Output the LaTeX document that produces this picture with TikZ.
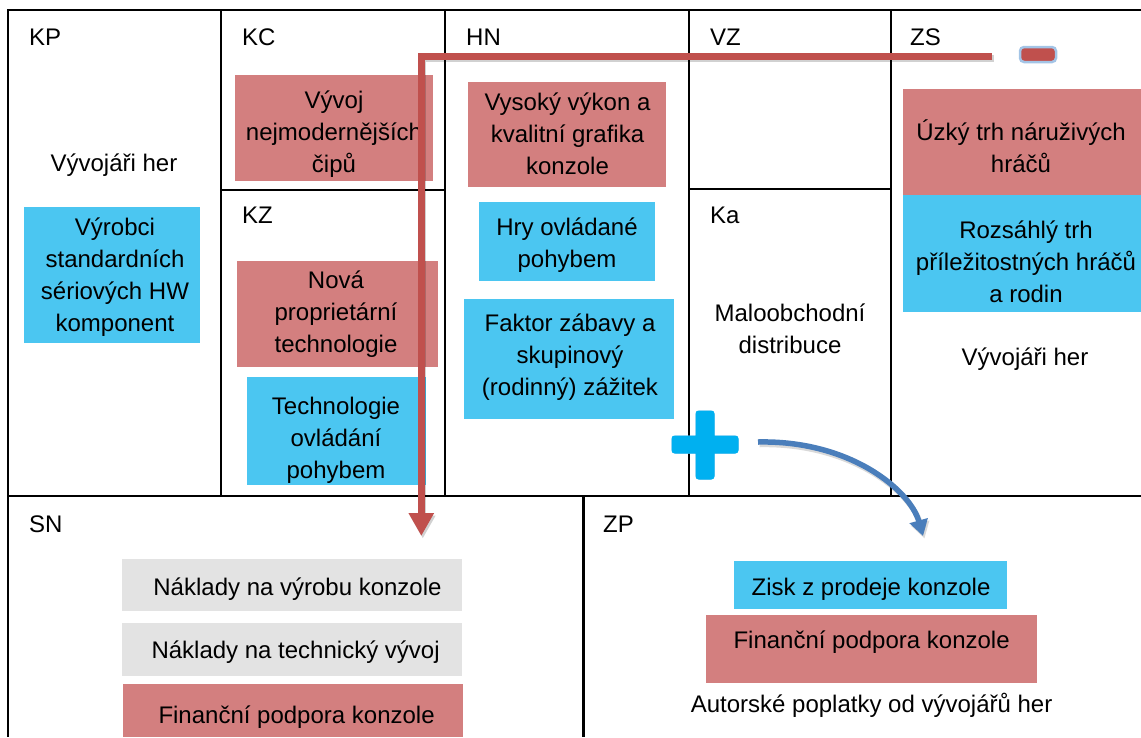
\documentclass[tikz,border=0pt]{standalone}
\usepackage{fontspec}
\setmainfont{Liberation Sans}
\usetikzlibrary{arrows.meta}

\definecolor{cellred}{HTML}{D37F7F}
\definecolor{cellblue}{HTML}{4BC6F1}
\definecolor{cellgray}{HTML}{E3E3E3}
\definecolor{arrowred}{HTML}{C0504D}
\definecolor{arrowblue}{HTML}{4A7EBB}
\definecolor{signblue}{HTML}{00B0F0}
\definecolor{signglow}{HTML}{A3C4E6}

\begin{document}
\begin{tikzpicture}[x=1pt,y=-1pt,
  every node/.style={font=\fontsize{24}{32}\selectfont, inner sep=0pt, align=center},
  gridline/.style={line width=2.6pt, black},
  tag/.style={anchor=base west},
  oneline/.style={anchor=base},
  redcell/.style={rectangle, fill=cellred},
  bluecell/.style={rectangle, fill=cellblue},
  graycell/.style={rectangle, fill=cellgray},
  redarrow/.style={draw=arrowred, line width=6.5pt, line join=miter,
    -{Triangle[length=23pt,width=24pt]}},
  redshadow/.style={draw=black, opacity=0.18, line width=7pt,
    -{Triangle[length=23pt,width=24pt]}},
  bluearrow/.style={draw=arrowblue, line width=5.5pt,
    -{Triangle[length=16pt,width=18pt]}},
  blueshadow/.style={draw=black, opacity=0.15, line width=5.5pt,
    -{Triangle[length=16pt,width=18pt]}},
  minussign/.style={rectangle, rounded corners=4pt, fill=arrowred,
    draw=signglow, line width=2.5pt, minimum width=36pt, minimum height=15pt},
  plusbar/.style={rectangle, rounded corners=3pt, fill=signblue,
    draw=signglow, line width=3pt}
]
\useasboundingbox (0,0) rectangle (1141,737);

% ---- coloured cells ----
\node[bluecell, minimum width=176pt, minimum height=136pt] (kpB)  at (112,275)   {};
\node[redcell,  minimum width=198pt, minimum height=106pt] (kcR)  at (334,128)   {};
\node[redcell,  minimum width=201pt, minimum height=106pt] (kzR)  at (337.5,314) {};
\node[bluecell, minimum width=179pt, minimum height=108pt] (kzB)  at (336.5,431) {};
\node[redcell,  minimum width=198pt, minimum height=105pt] (hnR)  at (567,134.5) {};
\node[bluecell, minimum width=176pt, minimum height=79pt]  (hnB1) at (567,241.5) {};
\node[bluecell, minimum width=210pt, minimum height=120pt] (hnB2) at (569,359)   {};
\node[redcell,  minimum width=238pt, minimum height=106pt] (zsR)  at (1022,142)  {};
\node[bluecell, minimum width=238pt, minimum height=117pt] (zsB)  at (1022,253.5){};
\node[graycell, minimum width=340pt, minimum height=52pt]  (snG1) at (292,585)   {};
\node[graycell, minimum width=340pt, minimum height=53pt]  (snG2) at (292,649.5) {};
\node[redcell,  minimum width=340pt, minimum height=53pt]  (snR)  at (293,710.5) {};
\node[bluecell, minimum width=273pt, minimum height=48pt]  (zpB)  at (870.5,585) {};
\node[redcell,  minimum width=331pt, minimum height=68pt]  (zpR)  at (871.5,649) {};

% ---- texts ----
\node[oneline] (kpDev) at (114,171) {Vývojáři her};
\node (kpBt)  at (115,277.5) {Výrobci\\standardních\\sériových HW\\komponent};
\node (kcRt)  at (334,134.5) {Vývoj\\nejmodernějších\\čipů};
\node (kzRt)  at (336,314.5) {Nová\\proprietární\\technologie};
\node (kzBt)  at (336,440)   {Technologie\\ovládání\\pohybem};
\node (hnRt)  at (567.5,133.5) {Vysoký výkon a\\kvalitní grafika\\konzole};
\node (hnB1t) at (567,245.5) {Hry ovládané\\pohybem};
\node (hnB2t) at (570,357.5) {Faktor zábavy a\\skupinový\\(rodinný) zážitek};
\node (kaT)   at (790,329)   {Maloobchodní\\distribuce};
\node (zsRt)  at (1021,146.5) {Úzký trh náruživých\\hráčů};
\node (zsBt)  at (1026,262)  {Rozsáhlý trh\\příležitostných hráčů\\a rodin};
\node[oneline] (zsDev) at (1025,365) {Vývojáři her};
\node[oneline] (sn1) at (297.5,595) {Náklady na výrobu konzole};
\node[oneline] (sn2) at (295.6,658) {Náklady na technický vývoj};
\node[oneline] (sn3) at (296.6,723) {Finanční podpora konzole};
\node[oneline] (zp1) at (871,595)   {Zisk z prodeje konzole};
\node[oneline] (zp2) at (871.6,648) {Finanční podpora konzole};
\node[oneline] (zp3) at (871.6,712) {Autorské poplatky od vývojářů her};

% ---- section tags ----
\node[tag] (tKP) at (29,45)   {KP};
\node[tag] (tKC) at (242,45)  {KC};
\node[tag] (tHN) at (466,45)  {HN};
\node[tag] (tVZ) at (710,45)  {VZ};
\node[tag] (tZS) at (910,45)  {ZS};
\node[tag] (tKZ) at (242,223) {KZ};
\node[tag] (tKa) at (710,223) {Ka};
\node[tag] (tSN) at (29,532)  {SN};
\node[tag] (tZP) at (603,532) {ZP};

% ---- canvas grid ----
\draw[gridline] (1141,10) -- (8,10) -- (8,737);
\draw[gridline] (221,10) -- (221,496);
\draw[gridline] (445,10) -- (445,496);
\draw[gridline] (689,10) -- (689,496);
\draw[gridline] (891,10) -- (891,496);
\draw[gridline] (221,190) -- (445,190);
\draw[gridline] (689,189) -- (891,189);
\draw[gridline] (8,496) -- (1141,496);
\draw[gridline] (583.5,496) -- (583.5,737);

% ---- minus sign and cost arrow ----
\node[minussign] (minus) at (1038,54.5) {};
\coordinate (redStart) at (992,56.3);
\coordinate (redEnd) at (421.3,536);
\draw[redshadow, transform canvas={xshift=1.5pt, yshift=-2.5pt}] (redStart) -| (redEnd);
\draw[redarrow] (redStart) -| (redEnd);

% ---- plus sign and revenue arrow ----
\node[plusbar, minimum width=64pt, minimum height=15pt] (plusH) at (705,444.5) {};
\node[plusbar, minimum width=16pt, minimum height=66pt] (plusV) at (705,445) {};
\fill[signblue, rounded corners=3pt]
  (plusH.south west) rectangle (plusH.north east)
  (plusV.south west) rectangle (plusV.north east);
\coordinate (blueStart) at (758,442);
\coordinate (blueEnd) at (923,536);
\draw[blueshadow, transform canvas={xshift=1.5pt, yshift=-2.5pt}]
  (blueStart) .. controls (850,440) and (910,490) .. (blueEnd);
\draw[bluearrow] (blueStart) .. controls (850,440) and (910,490) .. (blueEnd);
\end{tikzpicture}
\end{document}
